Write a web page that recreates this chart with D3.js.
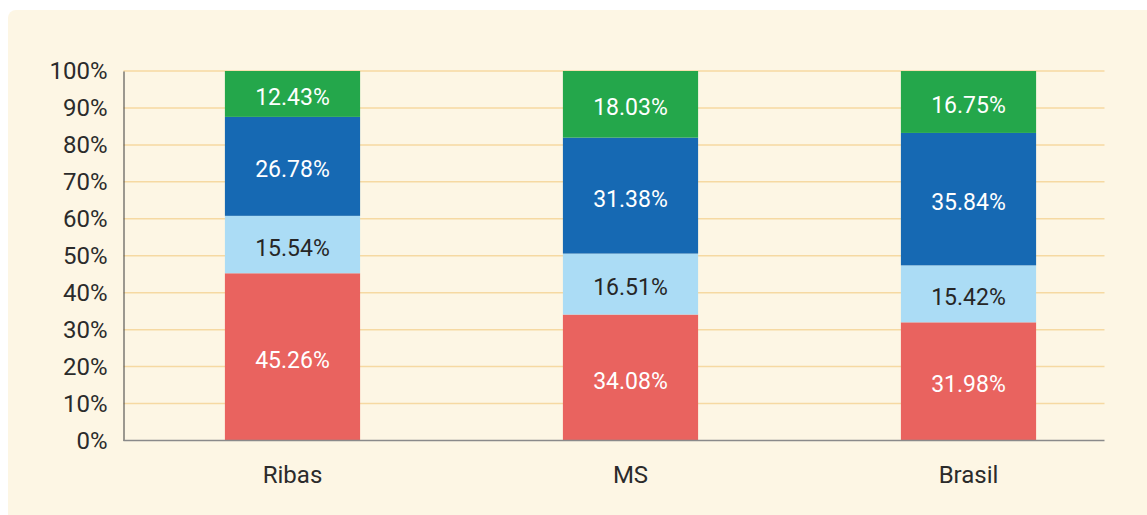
<!DOCTYPE html>
<html><head><meta charset="utf-8">
<script src="https://cdn.jsdelivr.net/npm/d3@7"></script>
<style>html,body{margin:0;padding:0;background:#fff;}svg{display:block;}</style>
</head><body>
<svg id="chart" width="1147" height="515"></svg>
<script>
const categories = ["Ribas", "MS", "Brasil"];
const seriesNames = ["s1", "s2", "s3", "s4"];
const seriesColors = ["#e9635f", "#abdcf5", "#1669b3", "#24a74b"];
const labelColors = ["#ffffff", "#262626", "#ffffff", "#ffffff"];
const s1 = [45.26, 34.08, 31.98];
const s2 = [15.54, 16.51, 15.42];
const s3 = [26.78, 31.38, 35.84];
const s4 = [12.43, 18.03, 16.75];
const yTicks = [0, 10, 20, 30, 40, 50, 60, 70, 80, 90, 100];

(function () {
const svg = d3.select("#chart");
const font = "Roboto, 'Open Sans', sans-serif";

svg.append("rect").attr("x", 8).attr("y", 10).attr("width", 1147).attr("height", 515)
  .attr("rx", 8).attr("fill", "#fdf6e4");

const pLeft = 123.5, pRight = 1104.5, pTop = 71, pBottom = 440.5;
const x = d3.scaleBand().domain(categories).range([123.5, 1137.5]).paddingInner(0.6).paddingOuter(0.3);
const y = d3.scaleLinear().domain([0, 100]).range([pBottom, pTop]);

// gridlines
svg.append("g").selectAll("line").data(yTicks.filter(d => d > 0)).join("line")
  .attr("x1", pLeft).attr("x2", pRight)
  .attr("y1", d => y(d)).attr("y2", d => y(d))
  .attr("stroke", "#f6d9a2").attr("stroke-width", 1.5);

const rows = categories.map((c, i) => ({cat: c, s1: s1[i], s2: s2[i], s3: s3[i], s4: s4[i]}));
const stacked = d3.stack().keys(seriesNames)(rows);

stacked.forEach((layer, li) => {
  const g = svg.append("g");
  g.selectAll("rect").data(layer).join("rect")
    .attr("x", d => x(d.data.cat))
    .attr("width", x.bandwidth())
    .attr("y", d => y(Math.min(100, d[1])))
    .attr("height", d => y(d[0]) - y(Math.min(100, d[1])))
    .attr("fill", seriesColors[li]);
  g.selectAll("text").data(layer).join("text")
    .attr("x", d => x(d.data.cat) + x.bandwidth() / 2)
    .attr("y", d => y((d[0] + Math.min(100, d[1])) / 2) + 3)
    .attr("dy", "0.35em")
    .attr("text-anchor", "middle")
    .attr("font-family", font).attr("font-size", 23)
    .attr("fill", labelColors[li])
    .text(d => (d[1] - d[0]).toFixed(2) + "%");
});

// y axis
const yAxis = d3.axisLeft(y).tickValues(yTicks).tickFormat(d => d + "%").tickSize(0).tickPadding(16);
const ya = svg.append("g").attr("transform", `translate(${pLeft},0)`).call(yAxis);
ya.select(".domain").attr("stroke", "#3a3a3a").attr("stroke-width", 1);
ya.selectAll("text").attr("font-family", font).attr("font-size", 24).attr("fill", "#2b2b2b");

// x axis
const xAxis = d3.axisBottom(x).tickSize(0).tickPadding(25);
const xa = svg.append("g").attr("transform", `translate(0,${pBottom})`).call(xAxis);
xa.select(".domain").remove();
xa.selectAll("text").attr("font-family", font).attr("font-size", 24).attr("fill", "#2b2b2b");
svg.append("line").attr("x1", pLeft).attr("x2", pRight).attr("y1", pBottom).attr("y2", pBottom)
  .attr("stroke", "#8a8a8a").attr("stroke-width", 1.5);
})();
</script>
</body></html>
